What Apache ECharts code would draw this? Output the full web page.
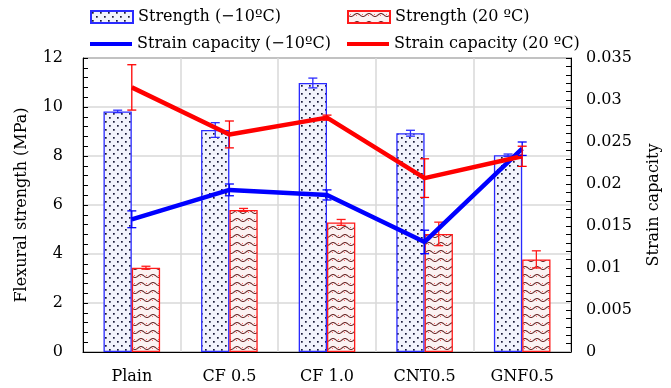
<!DOCTYPE html>
<html><head><meta charset="utf-8">
<script src="https://cdn.jsdelivr.net/npm/echarts@6/dist/echarts.min.js"></script>
<style>html,body{margin:0;padding:0;background:#fff}#c{width:671px;height:388px}</style>
</head><body><div id="c"></div>
<script>
const categories = ['Plain', 'CF 0.5', 'CF 1.0', 'CNT0.5', 'GNF0.5'];
const strengthCold = [9.82, 9.06, 10.98, 8.93, 8.03];
const strengthColdErr = [0.05, 0.3, 0.2, 0.12, 0.05];
const strengthWarm = [3.44, 5.8, 5.29, 4.82, 3.78];
const strengthWarmErr = [0.06, 0.06, 0.12, 0.48, 0.35];
const strainCold = [0.0158, 0.0193, 0.0187, 0.0131, 0.0242];
const strainColdErr = [0.001, 0.0007, 0.0006, 0.0014, 0.0008];
const strainWarm = [0.0315, 0.0259, 0.0279, 0.0207, 0.0233];
const strainWarmErr = [0.0027, 0.0016, 0.0003, 0.0023, 0.0012];
const leftTicks = [0, 2, 4, 6, 8, 10, 12];
const rightTicks = [0, 0.005, 0.01, 0.015, 0.02, 0.025, 0.03, 0.035];
const names = ['Strength (−10ºC)', 'Strength (20 ºC)', 'Strain capacity (−10ºC)', 'Strain capacity (20 ºC)'];

const FONT = 'DejaVu Serif';

function dotPattern() {
  const c = document.createElement('canvas'); c.width = 8; c.height = 8;
  const g = c.getContext('2d');
  g.fillStyle = '#f2f3fc'; g.fillRect(0, 0, 8, 8);
  g.fillStyle = '#1a1a3a';
  g.fillRect(1, 1, 1.7, 1.7); g.fillRect(5, 5, 1.7, 1.7);
  return c;
}
function wavePattern() {
  const c = document.createElement('canvas'); c.width = 12; c.height = 8;
  const g = c.getContext('2d');
  g.fillStyle = '#fbf2f2'; g.fillRect(0, 0, 12, 8);
  g.strokeStyle = '#6a2a2a'; g.lineWidth = 1.1;
  g.beginPath();
  for (let x = 0; x <= 12; x += 0.5) {
    const y = 4 + 1.5 * Math.sin(x / 12 * Math.PI * 2);
    if (x === 0) g.moveTo(x, y); else g.lineTo(x, y);
  }
  g.stroke();
  g.fillStyle = 'rgba(255,40,40,0.7)';
  g.fillRect(2, 3, 1, 1); g.fillRect(8, 4, 1, 1);
  return c;
}

function errSeries(vals, errs, color, yIdx, offFrac, z) {
  return {
    type: 'custom', yAxisIndex: yIdx, z: z, silent: true,
    data: vals.map((v, i) => [i, v, errs[i]]),
    renderItem: function (params, api) {
      const i = api.value(0), v = api.value(1), e = api.value(2);
      const bw = api.size([1, 0])[0];
      const dx = offFrac * bw;
      const top = api.coord([i, v + e]);
      const bot = api.coord([i, v - e]);
      const x = top[0] + dx, h = 4.5;
      const st = { stroke: color, lineWidth: 1.3 };
      return { type: 'group', children: [
        { type: 'line', shape: { x1: x, y1: top[1], x2: x, y2: bot[1] }, style: st },
        { type: 'line', shape: { x1: x - h, y1: top[1], x2: x + h, y2: top[1] }, style: st },
        { type: 'line', shape: { x1: x - h, y1: bot[1], x2: x + h, y2: bot[1] }, style: st }
      ]};
    }
  };
}

const chart = echarts.init(document.getElementById('c'), null, { renderer: 'canvas' });
const txt = { fontFamily: FONT, fontSize: 16, color: '#000' };
const legendBase = { orient: 'horizontal', padding: 0, itemWidth: 42, itemHeight: 12, itemGap: 0, textStyle: Object.assign({}, txt), selectedMode: false };

chart.setOption({
  animation: false,
  grid: { left: 83, right: 100, top: 58, bottom: 36, show: true, borderColor: '#000', borderWidth: 1, backgroundColor: 'transparent' },
  legend: [
    Object.assign({}, legendBase, { data: [{ name: names[0], icon: 'rect' }], left: 90, top: 9 }),
    Object.assign({}, legendBase, { data: [{ name: names[1], icon: 'rect' }], left: 347, top: 9 }),
    Object.assign({}, legendBase, { itemHeight: 4, data: [{ name: names[2], icon: 'rect' }], left: 90, top: 36 }),
    Object.assign({}, legendBase, { itemHeight: 4, data: [{ name: names[3], icon: 'rect' }], left: 347, top: 36 })
  ],
  xAxis: {
    type: 'category', data: categories, boundaryGap: true,
    axisLine: { lineStyle: { color: '#000', width: 1 } },
    axisTick: { show: false },
    axisLabel: Object.assign({}, txt, { margin: 17 }),
    splitLine: { show: true, lineStyle: { color: '#d9d9d9', width: 1.5 } }
  },
  yAxis: [
    {
      type: 'value', min: leftTicks[0], max: leftTicks[leftTicks.length - 1], interval: 2,
      name: 'Flexural strength (MPa)', nameLocation: 'middle', nameGap: 53, nameRotate: 90,
      nameTextStyle: txt,
      axisLine: { show: true, lineStyle: { color: '#000' } },
      axisTick: { show: true, inside: true, length: 5, lineStyle: { color: '#000' } },
      minorTick: { show: true, splitNumber: 5, length: 5, lineStyle: { color: '#000' } },
      axisLabel: Object.assign({}, txt, { margin: 20 }),
      splitLine: { show: true, lineStyle: { color: '#d9d9d9', width: 1.5 } }
    },
    {
      type: 'value', min: rightTicks[0], max: rightTicks[rightTicks.length - 1], interval: 0.005,
      name: 'Strain capacity', nameLocation: 'middle', nameGap: 75, nameRotate: 90,
      nameTextStyle: txt,
      axisLine: { show: true, lineStyle: { color: '#000' } },
      axisTick: { show: true, inside: true, length: 5, lineStyle: { color: '#000' } },
      minorTick: { show: true, splitNumber: 5, length: 5, lineStyle: { color: '#000' } },
      axisLabel: Object.assign({}, txt, { margin: 15, formatter: v => String(+v.toFixed(3)) }),
      splitLine: { show: false }
    }
  ],
  series: [
    { name: names[0], type: 'bar', data: strengthCold, barWidth: '29%', barGap: '0%', z: 2,
      itemStyle: { color: { image: dotPattern(), repeat: 'repeat' }, borderColor: '#2a2aff', borderWidth: 1.3 } },
    { name: names[1], type: 'bar', data: strengthWarm, barWidth: '29%', barGap: '0%', z: 2,
      itemStyle: { color: { image: wavePattern(), repeat: 'repeat' }, borderColor: '#ff1a1a', borderWidth: 1.3 } },
    errSeries(strengthCold, strengthColdErr, '#2a2aff', 0, -0.145, 3),
    errSeries(strengthWarm, strengthWarmErr, '#ff1a1a', 0, 0.145, 3),
    { name: names[2], type: 'line', yAxisIndex: 1, data: strainCold, symbol: 'none', z: 4,
      lineStyle: { color: '#0000ff', width: 4.5 }, itemStyle: { color: '#0000ff' } },
    { name: names[3], type: 'line', yAxisIndex: 1, data: strainWarm, symbol: 'none', z: 4,
      lineStyle: { color: '#ff0000', width: 4.5 }, itemStyle: { color: '#ff0000' } },
    errSeries(strainCold, strainColdErr, '#0000ff', 1, 0, 5),
    errSeries(strainWarm, strainWarmErr, '#ff0000', 1, 0, 5)
  ]
});
</script></body></html>
